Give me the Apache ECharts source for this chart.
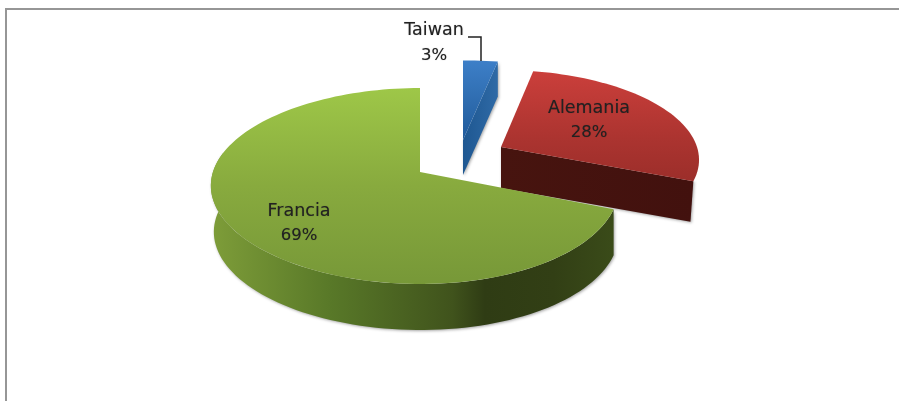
<!DOCTYPE html>
<html>
<head>
<meta charset="utf-8">
<style>html,body{margin:0;padding:0;background:#fff}#c{width:899px;height:401px}</style>
<script src="https://cdn.jsdelivr.net/npm/echarts@6/dist/echarts.min.js"></script>
</head>
<body>
<div id="c"></div>
<script>
var categories = ['Taiwan', 'Alemania', 'Francia'];
var shares = [3, 28, 69];

var G = echarts.graphic;
function vgrad(stops){return new G.LinearGradient(0,0,0,1,stops.map(function(s){return {offset:s[0],color:s[1]};}));}
function hgrad(stops){return new G.LinearGradient(0,0,1,0,stops.map(function(s){return {offset:s[0],color:s[1]};}));}

var looks = {
  Taiwan:{ax:463,ay:140,rx:212,ry:91,asym:0,depth:35,wallScale:1,inset:0,cut:'end',
    top:[[0,'#3d7fc8'],[0.5,'#2f6db0'],[1,'#1f5a9c']],
    wall:[[0,'#1e5791'],[1,'#2f6aa6']],label:[434,30,56]},
  Alemania:{ax:501,ay:147,rx:196,ry:88,asym:0,depth:41,wallScale:0.985,inset:0,cut:'end',
    top:[[0,'#cb3f3b'],[0.6,'#ac3430'],[1,'#9c2e2a']],
    wall:[[0,'#47140f'],[1,'#42110e']],label:[589,108,133]},
  Francia:{ax:420,ay:172,rx:202,ry:96,asym:0.025,depth:46,wallScale:1,inset:3,cut:'arc',
    top:[[0,'#9ec748'],[0.5,'#88aa3e'],[1,'#779838']],
    wall:[[0,'#7e9d39'],[0.3,'#587828'],[0.6,'#40531c'],[0.68,'#2f3c14'],[0.85,'#323f15'],[1,'#3a4b19']],label:[299,211,236]}
};
var K = 1/7;

function project(l, deg, scale, inset){
  var t = deg*Math.PI/180, u = Math.sin(t), v = Math.cos(t), s = 1/(1+K*v);
  var k = scale||1;
  return [l.ax + l.rx*u*(1-l.asym*u)*s*k + (inset||0)*Math.max(0,-u), l.ay - l.ry*v*s*k];
}
function arc(l, a, b, scale, dy, inset){
  var pts = [], n = Math.max(2, Math.ceil(Math.abs(b-a)/2));
  for (var i=0;i<=n;i++){
    var p = project(l, a+(b-a)*i/n, scale, inset);
    p[1] += dy||0; pts.push(p);
  }
  return pts;
}
var total = shares.reduce(function(a,b){return a+b;},0);

function renderItem(params, api){
  var idx = params.dataIndex, name = categories[idx], l = looks[name];
  var before = 0; for (var i=0;i<idx;i++) before += shares[i];
  var a0 = before/total*360, a1 = (before+shares[idx])/total*360;
  var children = [];
  var shadow = {shadowBlur:3,shadowColor:'rgba(90,90,90,0.55)',shadowOffsetX:1,shadowOffsetY:1};
  var wallPts;
  if (l.cut === 'arc'){
    var top = arc(l, a0, 282);
    var bot = arc(l, a0, 282, l.wallScale, l.depth, l.inset);
    wallPts = top.concat(bot.reverse());
  } else {
    var c = project(l, a1);
    var cb = project(l, a1, l.wallScale); cb[1] += l.depth;
    wallPts = [[l.ax,l.ay],c,cb,[l.ax,l.ay+l.depth]];
  }
  children.push({type:'polygon',shape:{points:wallPts},
    style:Object.assign({fill:hgrad(l.wall)},shadow)});
  var topPts = [[l.ax,l.ay]].concat(arc(l,a0,a1));
  children.push({type:'polygon',shape:{points:topPts},style:{fill:vgrad(l.top)}});
  return {type:'group',children:children};
}

function renderLabels(params, api){
  var idx = params.dataIndex, name = categories[idx], l = looks[name];
  var soft = {textAlign:'center',textVerticalAlign:'middle',fill:'#222',
    textShadowBlur:1,textShadowColor:'rgba(0,0,0,0.35)'};
  return {type:'group',children:[
    {type:'text',z2:100,style:Object.assign({x:l.label[0],y:l.label[1],text:name,font:'17.5px "DejaVu Sans"'},soft)},
    {type:'text',z2:100,style:Object.assign({x:l.label[0],y:l.label[2],text:shares[idx]+'%',font:'16.5px "DejaVu Sans"'},soft)}
  ]};
}

var chart = echarts.init(document.getElementById('c'),null,{renderer:'canvas'});
chart.setOption({
  animation:false,
  backgroundColor:'#fff',
  graphic:[
    {type:'rect',shape:{x:5,y:8,width:894,height:2},style:{fill:'#969696'},silent:true},
    {type:'rect',shape:{x:5,y:8,width:2,height:393},style:{fill:'#969696'},silent:true},
    {type:'polyline',shape:{points:[[468,37],[481,37],[481,61]]},style:{stroke:'#222',lineWidth:1.5,fill:null},silent:true,z:10}
  ],
  series:[
    {type:'custom',coordinateSystem:'none',renderItem:renderItem,data:shares,z:2},
    {type:'custom',coordinateSystem:'none',renderItem:renderLabels,data:shares,z:3}
  ]
});
</script>
</body>
</html>
